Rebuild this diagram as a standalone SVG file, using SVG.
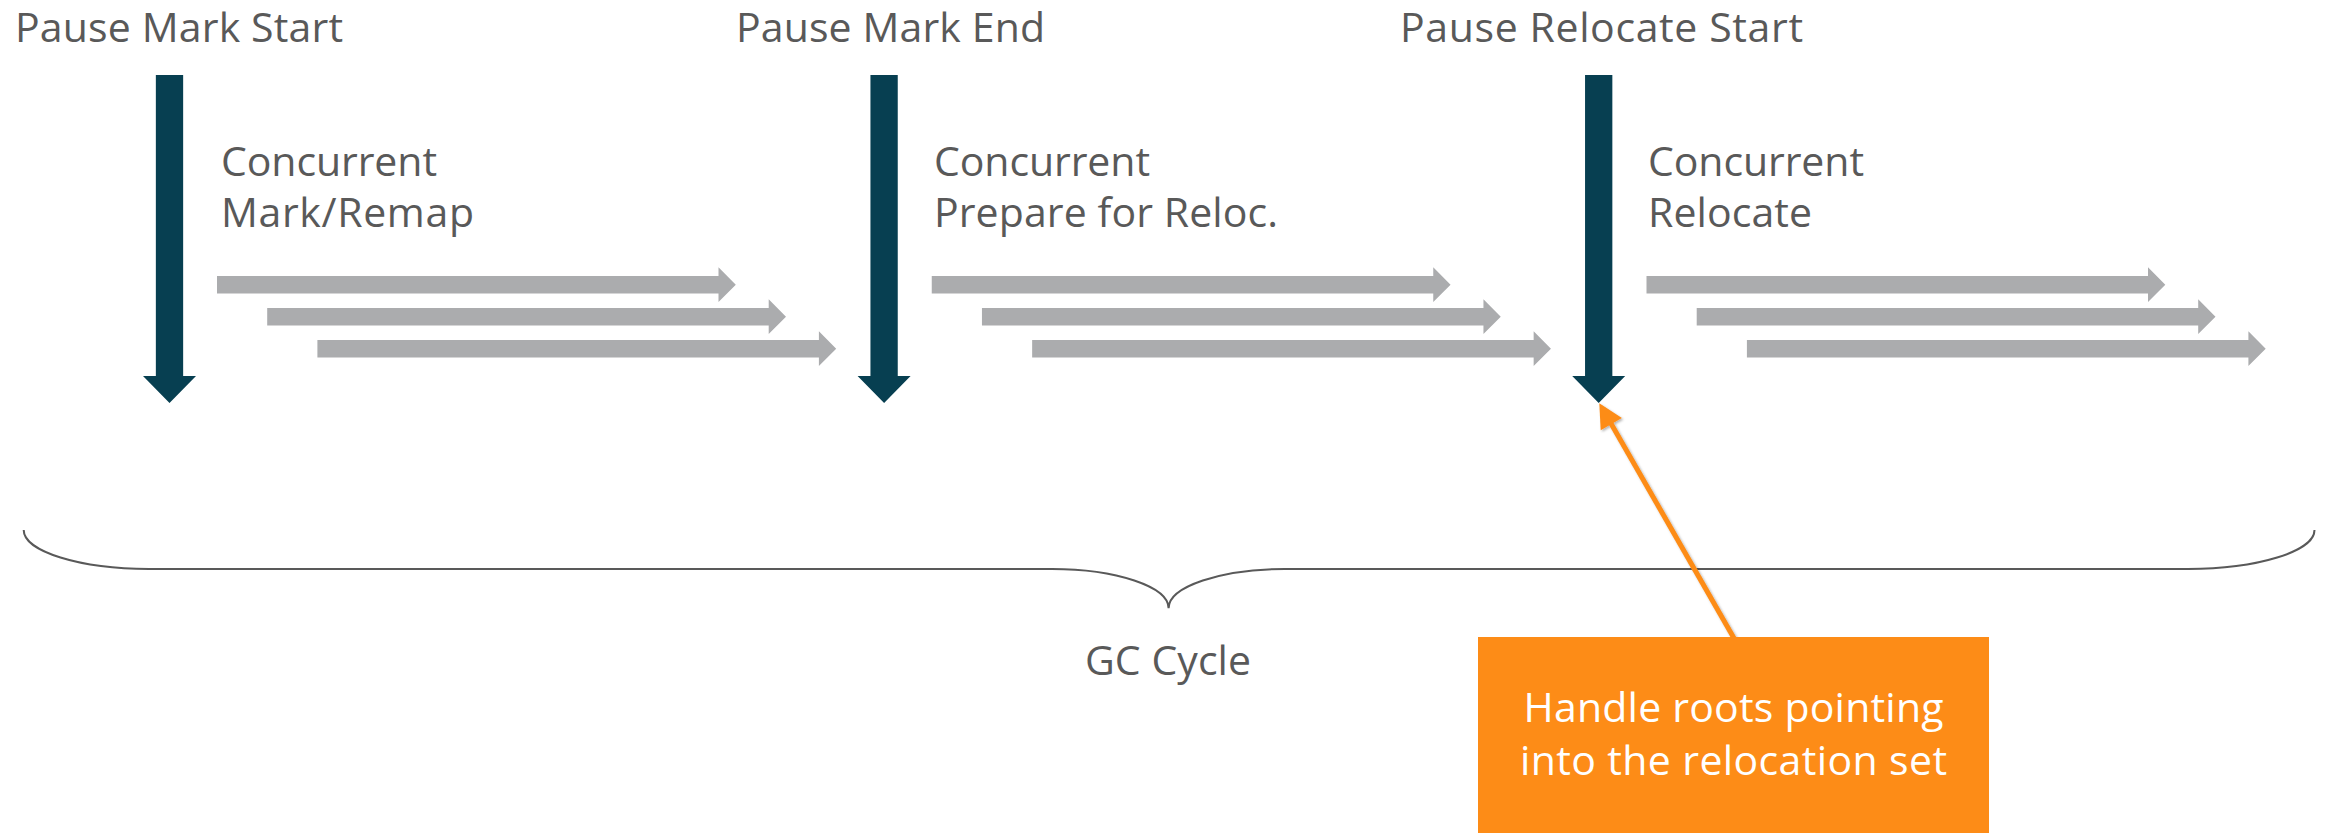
<svg xmlns="http://www.w3.org/2000/svg" xmlns:xlink="http://www.w3.org/1999/xlink" width="2328" height="833" viewBox="0 0 2328 833">
  <style>
    .lbl { font-family: "Open Sans", "Noto Sans", "Liberation Sans", sans-serif; font-size: 41px; fill: #595959; }
    .note { font-family: "Open Sans", "Noto Sans", "Liberation Sans", sans-serif; font-size: 41px; fill: #ffffff; text-anchor: middle; }
    .pause { fill: #073f51; }
    .work { fill: #abacae; }
    .brace { fill: none; stroke: #595959; stroke-width: 2; }
    .callout { fill: none; stroke: #fd8c17; stroke-width: 5; }
  </style>
  <defs>
    <!-- stop-the-world pause: thick vertical arrow, origin at shaft centre top -->
    <path id="pauseArrow" d="M-13.65,0 H13.65 V301 H26.5 L0,328 L-26.5,301 H-13.65 Z"/>
    <!-- concurrent worker thread: horizontal block arrow, origin at left middle -->
    <path id="workArrow" d="M0,-8.7 H501.5 V-17.4 L518.8,0 L501.5,17.4 V8.7 H0 Z"/>
    <filter id="softShadow" x="-20%" y="-20%" width="140%" height="140%">
      <feDropShadow dx="1.5" dy="1.5" stdDeviation="1.2" flood-color="#000" flood-opacity="0.3"/>
    </filter>
  </defs>

  <rect width="2328" height="833" fill="#ffffff"/>

  <!-- Phase 1 -->
  <g id="pause-mark-start">
    <text class="lbl" x="15" y="42" textLength="328" lengthAdjust="spacing">Pause Mark Start</text>
    <use class="pause" xlink:href="#pauseArrow" x="169.5" y="75"/>
  </g>
  <g id="concurrent-mark-remap">
    <text class="lbl" x="221" y="176" textLength="216" lengthAdjust="spacing">Concurrent</text>
    <text class="lbl" x="221" y="227" textLength="253" lengthAdjust="spacing">Mark/Remap</text>
    <use class="work" xlink:href="#workArrow" x="217" y="284.7"/>
    <use class="work" xlink:href="#workArrow" x="267.2" y="316.7"/>
    <use class="work" xlink:href="#workArrow" x="317.4" y="348.7"/>
  </g>

  <!-- Phase 2 -->
  <g id="pause-mark-end">
    <text class="lbl" x="736" y="42" textLength="309" lengthAdjust="spacing">Pause Mark End</text>
    <use class="pause" xlink:href="#pauseArrow" x="884.1" y="75"/>
  </g>
  <g id="concurrent-prepare">
    <text class="lbl" x="934" y="176" textLength="216" lengthAdjust="spacing">Concurrent</text>
    <text class="lbl" x="934" y="227" textLength="344" lengthAdjust="spacing">Prepare for Reloc.</text>
    <use class="work" xlink:href="#workArrow" x="931.75" y="284.7"/>
    <use class="work" xlink:href="#workArrow" x="981.95" y="316.7"/>
    <use class="work" xlink:href="#workArrow" x="1032.15" y="348.7"/>
  </g>

  <!-- Phase 3 -->
  <g id="pause-relocate-start">
    <text class="lbl" x="1400" y="42" textLength="403" lengthAdjust="spacing">Pause Relocate Start</text>
    <use class="pause" xlink:href="#pauseArrow" x="1598.7" y="75"/>
  </g>
  <g id="concurrent-relocate">
    <text class="lbl" x="1648" y="176" textLength="216" lengthAdjust="spacing">Concurrent</text>
    <text class="lbl" x="1648" y="227" textLength="164" lengthAdjust="spacing">Relocate</text>
    <use class="work" xlink:href="#workArrow" x="1646.5" y="284.7"/>
    <use class="work" xlink:href="#workArrow" x="1696.7" y="316.7"/>
    <use class="work" xlink:href="#workArrow" x="1746.9" y="348.7"/>
  </g>

  <!-- Whole-cycle brace -->
  <g id="gc-cycle">
    <path class="brace" d="M23.7,530 C23.7,551.5 80,569 149,569 L1052,569 C1116,569 1168.6,586.7 1168.6,608.3 C1168.6,586.7 1221,569 1285,569 L2188,569 C2257,569 2314.5,551.5 2314.5,530"/>
    <text class="lbl" x="1085" y="675" textLength="166" lengthAdjust="spacing">GC Cycle</text>
  </g>

  <!-- Callout pointing at the relocate pause -->
  <g id="connectors">
    <g filter="url(#softShadow)">
      <line class="callout" x1="1735" y1="640" x2="1609" y2="420"/>
      <polygon fill="#fd8c17" points="1599.3,403.3 1621.9,418 1600.7,430.2"/>
    </g>
  </g>

  <g id="roots-note">
    <rect x="1478" y="637" width="511" height="196" fill="#fd8c17"/>
    <text class="note" x="1733.5" y="722" textLength="420" lengthAdjust="spacing">Handle roots pointing</text>
    <text class="note" x="1733.5" y="775" textLength="427" lengthAdjust="spacing">into the relocation set</text>
  </g>
</svg>
